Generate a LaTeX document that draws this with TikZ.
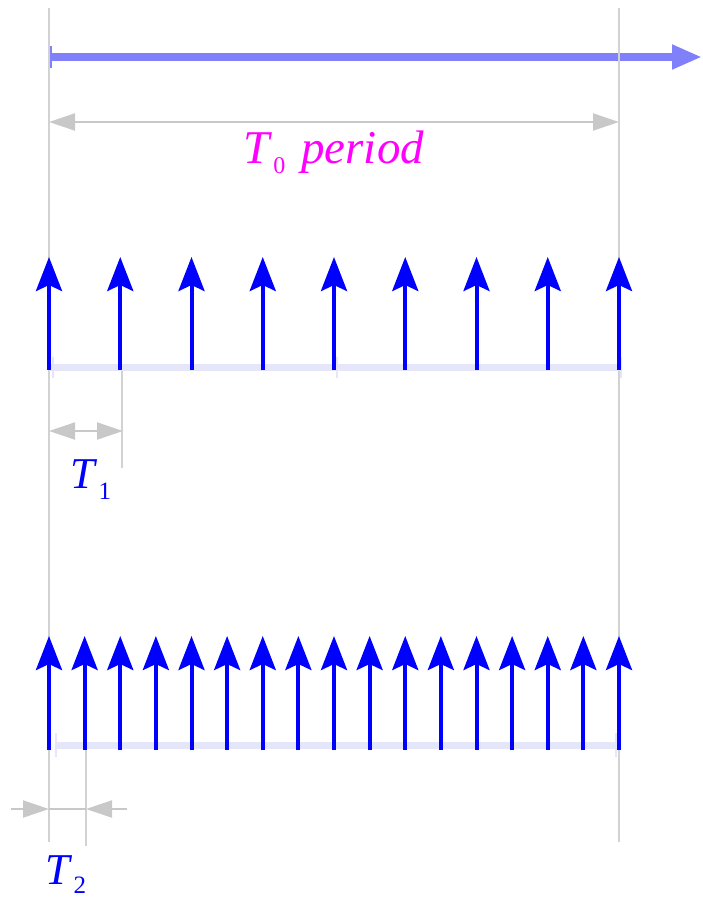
\documentclass[tikz,border=0pt]{standalone}
\usepackage{fontspec}
\setmainfont{Liberation Serif}
\usetikzlibrary{arrows.meta}
\definecolor{guidegray}{HTML}{D2D2D2}
\definecolor{dimgray}{HTML}{C8C8C8}
\definecolor{baselav}{HTML}{E6E6FA}
\definecolor{axisblue}{HTML}{8080FA}
\definecolor{magtext}{HTML}{FF00FF}
\definecolor{pureblue}{HTML}{0000FF}
\tikzset{
  guide/.style={draw=guidegray, line width=1.2pt},
  axisarrow/.style={draw=axisblue, fill=axisblue, line width=8pt, -{Triangle[length=30pt,width=23pt]}},
  axisbar/.style={draw=axisblue, line width=3pt},
  dimboth/.style={draw=dimgray, line width=2pt, {Triangle[length=26pt,width=17pt]}-{Triangle[length=26pt,width=17pt]}},
  dimin/.style={draw=dimgray, line width=2pt, -{Triangle[length=26pt,width=17pt]}},
  dimline/.style={draw=dimgray, line width=2pt},
  baseband/.style={draw=baselav, line width=7pt},
  basetick/.style={draw=baselav, line width=2.5pt},
  impulse/.style={draw=pureblue, line width=4pt, -{Stealth[length=34pt,width=26pt,inset=6pt]}},
  lbl/.style={inner sep=0pt, anchor=base west},
}
\begin{document}
\begin{tikzpicture}[x=1pt,y=-1pt]
\useasboundingbox (0,0) rectangle (702,900);
% top axis
\coordinate (ax0) at (49,57);
\coordinate (ax1) at (702,57);
\coordinate (axb0) at (50.5,46);
\coordinate (axb1) at (50.5,68);
\draw[axisarrow] (ax0) -- (ax1);
\draw[axisbar] (axb0) -- (axb1);
% guide lines
\coordinate (gL0) at (49,8);
\coordinate (gL1) at (49,842);
\coordinate (gR0) at (619,8);
\coordinate (gR1) at (619,842);
\coordinate (g10) at (122,370);
\coordinate (g11) at (122,468);
\coordinate (g20) at (86,750);
\coordinate (g21) at (86,846);
\draw[guide] (gL0) -- (gL1);
\draw[guide] (gR0) -- (gR1);
\draw[guide] (g10) -- (g11);
\draw[guide] (g20) -- (g21);
% T0 dimension
\coordinate (d0a) at (49,122);
\coordinate (d0b) at (619,122);
\draw[dimboth] (d0a) -- (d0b);
\node[lbl, text=magtext] (t0) at (243,163) {\fontsize{47}{50}\selectfont\itshape T\kern4pt\raisebox{-10pt}{\fontsize{24}{24}\selectfont\upshape 0}\kern16pt period};
% row 1 baseband
\coordinate (b1a) at (49,367);
\coordinate (b1m) at (337,367);
\coordinate (b1b) at (622,367);
\draw[baseband] (b1a) -- (b1m);
\draw[baseband] (b1m) -- (b1b);
\foreach \xx [count=\k] in {53,337,621}{
  \coordinate (tk1t\k) at (\xx,357);
  \coordinate (tk1b\k) at (\xx,378);
  \draw[basetick] (tk1t\k) -- (tk1b\k);
}
% row 1 impulses
\foreach \i in {0,...,8}{
  \pgfmathsetmacro\xx{49+71.25*\i}
  \coordinate (p\i) at (\xx,370);
  \coordinate (q\i) at (\xx,257);
  \draw[impulse] (p\i) -- (q\i);
}
% T1 dimension
\coordinate (d1a) at (49,431);
\coordinate (d1b) at (123,431);
\draw[dimboth] (d1a) -- (d1b);
\node[lbl, text=pureblue] (t1) at (70,488) {\fontsize{44}{48}\selectfont\itshape T\kern4pt\raisebox{-11pt}{\fontsize{25}{25}\selectfont\upshape 1}};
% row 2 baseband
\coordinate (b2a) at (56,745);
\coordinate (b2b) at (616,745);
\draw[baseband] (b2a) -- (b2b);
\foreach \xx [count=\k] in {56,616}{
  \coordinate (tk2t\k) at (\xx,733);
  \coordinate (tk2b\k) at (\xx,757);
  \draw[basetick] (tk2t\k) -- (tk2b\k);
}
% row 2 impulses
\foreach \i in {0,...,16}{
  \pgfmathsetmacro\xx{49+35.625*\i}
  \coordinate (r\i) at (\xx,750);
  \coordinate (s\i) at (\xx,636);
  \draw[impulse] (r\i) -- (s\i);
}
% T2 dimension
\coordinate (d2o) at (11,809);
\coordinate (d2a) at (49,809);
\coordinate (d2b) at (86,809);
\coordinate (d2p) at (127,809);
\draw[dimin] (d2o) -- (d2a);
\draw[dimline] (d2a) -- (d2b);
\draw[dimin] (d2p) -- (d2b);
\node[lbl, text=pureblue] (t2) at (45,884) {\fontsize{44}{48}\selectfont\itshape T\kern4pt\raisebox{-9pt}{\fontsize{25}{25}\selectfont\upshape 2}};
\end{tikzpicture}
\end{document}
